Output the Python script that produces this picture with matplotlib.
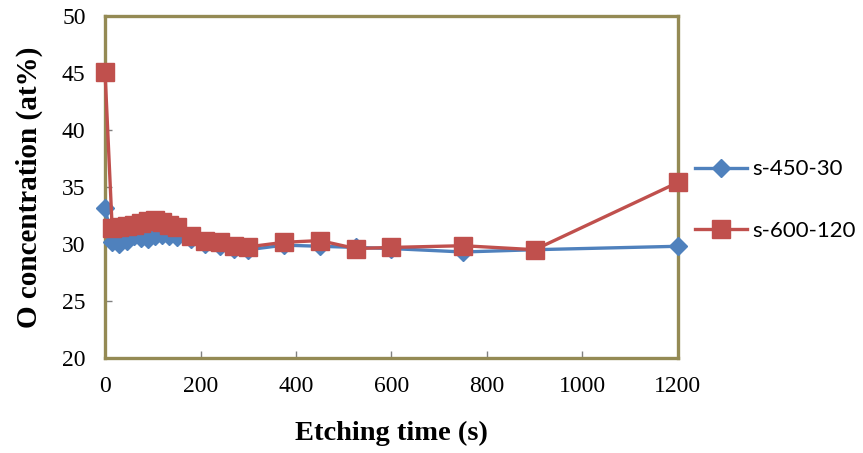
import matplotlib
matplotlib.use("Agg")
import matplotlib.pyplot as plt

# Etching times (s)
time_s = [0, 15, 30, 45, 60, 75, 90, 105, 120, 135, 150,
          180, 210, 240, 270, 300, 375, 450, 525, 600, 750, 900, 1200]

# O concentration (at%) per sample
o_450_30 = [33.2, 30.2, 30.0, 30.3, 30.7, 30.5, 30.4, 30.7, 30.8, 30.7, 30.6,
            30.4, 30.0, 29.8, 29.6, 29.5, 29.9, 29.8, 29.7, 29.6, 29.3, 29.5, 29.8]
o_600_120 = [45.1, 31.4, 31.5, 31.6, 31.7, 31.8, 32.0, 32.1, 31.9, 31.7, 31.5,
             30.7, 30.3, 30.15, 29.85, 29.75, 30.15, 30.3, 29.6, 29.7, 29.85, 29.5, 35.4]

series_labels = ["s-450-30", "s-600-120"]
x_ticks = [0, 200, 400, 600, 800, 1000, 1200]
y_ticks = [20, 25, 30, 35, 40, 45, 50]

BLUE = "#4F81BD"
RED = "#C0504D"
FRAME = "#948A54"

fig = plt.figure(figsize=(8.63, 4.53), dpi=100)
ax = fig.add_axes([0.1217, 0.2097, 0.6639, 0.755])

ax.plot(time_s, o_450_30, color=BLUE, lw=2.4, marker="D", ms=9.5,
        mec=BLUE, mfc=BLUE, label=series_labels[0], clip_on=False, zorder=4)
ax.plot(time_s, o_600_120, color=RED, lw=2.4, marker="s", ms=13,
        mec=RED, mfc=RED, label=series_labels[1], clip_on=False, zorder=5)

ax.set_xlim(0, 1200)
ax.set_ylim(20, 50)
ax.set_xticks(x_ticks)
ax.set_yticks(y_ticks)

for sp in ax.spines.values():
    sp.set_color(FRAME)
    sp.set_linewidth(2.4)
    sp.set_zorder(3)

ax.tick_params(axis="both", direction="in", length=5, width=1, color="#808080",
               labelsize=17)
ax.tick_params(axis="y", pad=14)
ax.tick_params(axis="x", pad=13)
for lab in ax.get_xticklabels() + ax.get_yticklabels():
    lab.set_fontfamily("Liberation Serif")

ax.set_xlabel("Etching time (s)", fontfamily="Liberation Serif",
              fontweight="bold", fontsize=20.5, labelpad=17)
ax.set_ylabel("O concentration (at%)", fontfamily="Liberation Serif",
              fontweight="bold", fontsize=21, labelpad=14)

leg = fig.legend(loc="center left", bbox_to_anchor=(0.8053, 0.5585),
                 frameon=False, prop={"family": "Lato", "size": 16},
                 handlelength=2.35, handletextpad=0.22, labelspacing=1.85,
                 borderpad=0, borderaxespad=0)

fig.savefig("out.png", dpi=100)
